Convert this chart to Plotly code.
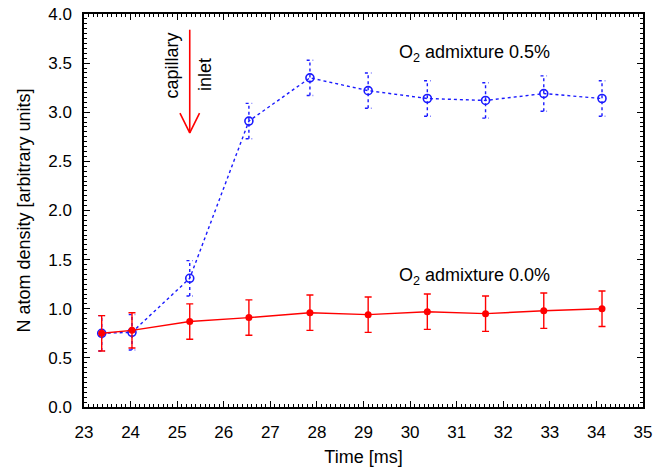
import plotly.graph_objects as go

time_ms = [23.38, 24.03, 25.27, 26.54, 27.85, 29.1, 30.37, 31.62, 32.87, 34.12]
o2_05 = [0.75, 0.76, 1.31, 2.91, 3.35, 3.22, 3.14, 3.12, 3.19, 3.14]
o2_05_err = [0.18, 0.18, 0.18, 0.18, 0.18, 0.18, 0.18, 0.18, 0.18, 0.18]
o2_00 = [0.75, 0.78, 0.87, 0.91, 0.96, 0.94, 0.97, 0.95, 0.98, 1.00]
o2_00_err = [0.18, 0.18, 0.18, 0.18, 0.18, 0.18, 0.18, 0.18, 0.18, 0.18]

x_ticks = list(range(23, 36))
y_ticks = [0.0, 0.5, 1.0, 1.5, 2.0, 2.5, 3.0, 3.5, 4.0]

arrow_x = 25.27
arrow_y_top = 3.84
arrow_y_bottom = 2.79

FONT = "Liberation Sans"
BLUE = "#1a1aff"
RED = "#ff0000"

def errbar_path(xs, ys, es, cap=0.07):
    px, py = [], []
    for x, y, e in zip(xs, ys, es):
        px += [x, x, None, x - cap, x + cap, None, x - cap, x + cap, None]
        py += [y - e, y + e, None, y - e, y - e, None, y + e, y + e, None]
    return px, py

fig = go.Figure()

# Blue error bars (dotted)
bx, by = errbar_path(time_ms, o2_05, o2_05_err)
fig.add_trace(go.Scatter(x=bx, y=by, mode="lines",
                         line=dict(color=BLUE, width=1.4, dash="dot"),
                         hoverinfo="skip", showlegend=False))
fig.add_trace(go.Scatter(x=time_ms, y=o2_05, mode="lines+markers",
                         line=dict(color=BLUE, width=1.4, dash="dot"),
                         marker=dict(symbol="circle-open", size=8, color=BLUE,
                                     line=dict(width=1.6, color=BLUE)),
                         showlegend=False))

# Red series
fig.add_trace(go.Scatter(x=time_ms, y=o2_00, mode="lines+markers",
                         line=dict(color=RED, width=1.4),
                         marker=dict(symbol="circle", size=7, color=RED),
                         error_y=dict(type="data", array=o2_00_err, visible=True,
                                      color=RED, thickness=1.4, width=3.5),
                         showlegend=False))

# Arrow (shaft + open V head)
head_dx = 0.21
head_dy = 0.2
fig.add_trace(go.Scatter(
    x=[arrow_x, arrow_x, None, arrow_x - head_dx, arrow_x, arrow_x + head_dx],
    y=[arrow_y_top, arrow_y_bottom, None, arrow_y_bottom + head_dy, arrow_y_bottom,
       arrow_y_bottom + head_dy],
    mode="lines", line=dict(color=RED, width=1.6), hoverinfo="skip", showlegend=False))

fig.add_annotation(x=24.9, y=3.47, text="capillary", textangle=-90, showarrow=False,
                   font=dict(family=FONT, size=18, color="black"))
fig.add_annotation(x=25.6, y=3.38, text="inlet", textangle=-90, showarrow=False,
                   font=dict(family=FONT, size=18, color="black"))

fig.add_annotation(x=31.39, y=3.6, text="O<sub>2</sub> admixture 0.5%", showarrow=False,
                   font=dict(family=FONT, size=18, color="black"))
fig.add_annotation(x=31.39, y=1.33, text="O<sub>2</sub> admixture 0.0%", showarrow=False,
                   font=dict(family=FONT, size=18, color="black"))

axis_common = dict(showgrid=False, zeroline=False, showline=True, linecolor="black",
                   linewidth=1.5, mirror="allticks", ticks="inside", ticklen=6,
                   tickwidth=1.2, tickcolor="black", automargin=False,
                   tickfont=dict(family=FONT, size=17, color="black"))

fig.update_xaxes(range=[23, 35], tickvals=x_ticks, ticktext=[str(v) for v in x_ticks],
                 ticklabelstandoff=9,
                 title=dict(text="Time [ms]", font=dict(family=FONT, size=18, color="black"),
                            standoff=9),
                 minor=dict(ticks="inside", ticklen=3, dtick=0.1, tickcolor="black", tickwidth=1),
                 **axis_common)
fig.update_yaxes(range=[0, 4], tickvals=y_ticks, ticktext=[f"{v:.1f}" for v in y_ticks],
                 ticklabelstandoff=7,
                 title=dict(text="N atom density [arbitrary units]",
                            font=dict(family=FONT, size=18, color="black"), standoff=13),
                 minor=dict(ticks="inside", ticklen=3, dtick=0.05, tickcolor="black", tickwidth=1),
                 **axis_common)

fig.update_layout(width=654, height=469, margin=dict(l=84, r=11, t=14, b=62),
                  plot_bgcolor="white", paper_bgcolor="white",
                  font=dict(family=FONT, color="black"))

fig.write_html("out.html")
